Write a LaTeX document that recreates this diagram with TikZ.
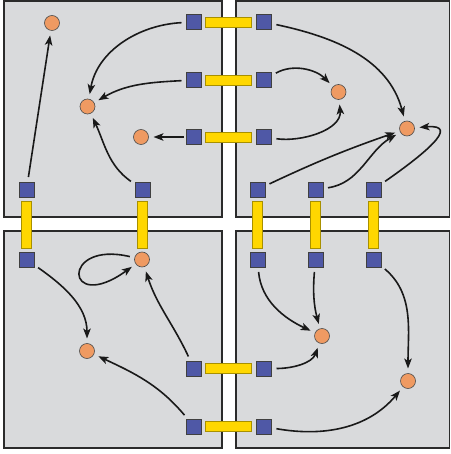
\documentclass[tikz,border=0pt]{standalone}
\usetikzlibrary{arrows.meta}
\definecolor{panelgray}{HTML}{D9DADC}
\definecolor{paneledge}{HTML}{2B2B2B}
\definecolor{sqblue}{HTML}{4F58A6}
\definecolor{dotorange}{HTML}{EF9A62}
\definecolor{baryellow}{HTML}{FFD700}
\definecolor{baredge}{HTML}{A89000}
\begin{document}
\begin{tikzpicture}[x=1pt,y=1pt,
  panel/.style={fill=panelgray,draw=paneledge,line width=1.6pt},
  sq/.style={rectangle,fill=sqblue,draw=black!75,line width=0.6pt,minimum size=15pt,inner sep=0pt,outer sep=0pt},
  dot/.style={circle,fill=dotorange,draw=black!70,line width=0.6pt,minimum size=15pt,inner sep=0pt,outer sep=0pt},
  hbar/.style={rectangle,fill=baryellow,draw=baredge,line width=0.5pt,minimum width=46pt,minimum height=10pt,inner sep=0pt},
  vbar/.style={rectangle,fill=baryellow,draw=baredge,line width=0.5pt,minimum width=10pt,minimum height=47pt,inner sep=0pt},
  arr/.style={-{Stealth[length=10pt,width=7.5pt,inset=2.5pt]},line width=1.6pt,black!90,shorten <=5pt,shorten >=5pt}]
\useasboundingbox (0,0) rectangle (450,-454);
% panels
\draw[panel] (4,-1) rectangle (222,-217);
\draw[panel] (236,-1) rectangle (449.5,-217);
\draw[panel] (4,-231) rectangle (222,-448);
\draw[panel] (236,-231) rectangle (449.5,-448);
% bars
\node[hbar] (h1) at (228.5,-22) {};
\node[hbar] (h2) at (228.5,-80) {};
\node[hbar] (h3) at (228.5,-137) {};
\node[hbar] (h4) at (228.5,-368.5) {};
\node[hbar] (h5) at (228.5,-426.5) {};
\node[vbar] (v1) at (26.5,-224.5) {};
\node[vbar] (v2) at (142.5,-224.5) {};
\node[vbar] (v3) at (257.5,-224.5) {};
\node[vbar] (v4) at (315.5,-224.5) {};
\node[vbar] (v5) at (373.5,-224.5) {};
% squares
\node[sq] (s1) at (194,-22) {};
\node[sq] (s2) at (194,-80) {};
\node[sq] (s3) at (194,-137) {};
\node[sq] (s4) at (26.5,-189.5) {};
\node[sq] (s5) at (142.5,-189.5) {};
\node[sq] (s6) at (264,-22) {};
\node[sq] (s7) at (264,-80) {};
\node[sq] (s8) at (264,-137) {};
\node[sq] (s9) at (257.5,-189.5) {};
\node[sq] (s10) at (315.5,-189.5) {};
\node[sq] (s11) at (373.5,-189.5) {};
\node[sq] (s12) at (26.5,-259.5) {};
\node[sq] (s13) at (194,-368.5) {};
\node[sq] (s14) at (194,-426.5) {};
\node[sq] (s15) at (257.5,-259.5) {};
\node[sq] (s16) at (315.5,-259.5) {};
\node[sq] (s17) at (373.5,-259.5) {};
\node[sq] (s18) at (264,-368.5) {};
\node[sq] (s19) at (264,-426.5) {};
% dots
\node[dot] (c1) at (52,-23) {};
\node[dot] (c2) at (87.5,-106.5) {};
\node[dot] (c3) at (141,-137) {};
\node[dot] (c4) at (338.5,-92) {};
\node[dot] (c5) at (407,-128.5) {};
\node[dot] (c6) at (142,-259.5) {};
\node[dot] (c7) at (87,-351) {};
\node[dot] (c8) at (322,-336) {};
\node[dot] (c9) at (408,-381) {};
% arrows top-left
\draw[arr] (s4) -- (c1);
\draw[arr] (s1) to[out=183,in=80] (c2);
\draw[arr] (s2) to[out=183,in=30] (c2);
\draw[arr,shorten <=3pt] (s3) -- (c3);
\draw[arr] (s5) to[out=145,in=-65] (c2);
% arrows top-right
\draw[arr] (s6) to[out=-12,in=105] (c5);
\draw[arr] (s7) to[out=30,in=135] (c4);
\draw[arr] (s8) to[out=-8,in=-85] (c4);
\draw[arr] (s9) to[bend left=3] (c5);
\draw[arr] (s10) to[out=8,in=210] (c5);
\draw[arr] (s11) to[out=35,in=5,looseness=1.9] (c5);
% arrows bottom-left
\draw[arr] (s12) to[out=-35,in=90] (c7);
\draw[arr] (c6) .. controls (60,-240) and (65,-315) .. (c6);
\draw[arr] (s13) to[out=115,in=-72] (c6);
\draw[arr] (s14) to[out=130,in=-25] (c7);
% arrows bottom-right
\draw[arr] (s15) to[out=-85,in=155] (c8);
\draw[arr] (s16) to[out=-95,in=105] (c8);
\draw[arr] (s17) to[out=-40,in=90] (c9);
\draw[arr] (s18) to[out=0,in=-110] (c8);
\draw[arr] (s19) to[out=-10,in=-130] (c9);
\end{tikzpicture}
\end{document}
